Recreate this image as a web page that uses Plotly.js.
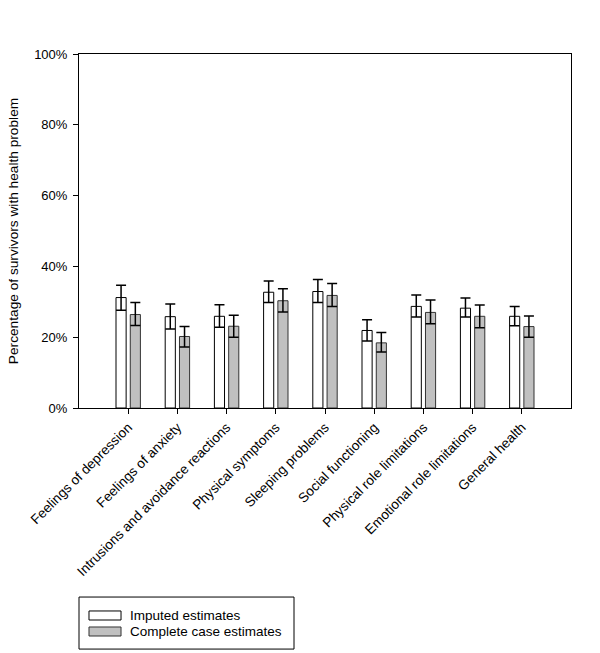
<!DOCTYPE html>
<html>
<head>
<meta charset="utf-8">
<script src="https://cdn.plot.ly/plotly-3.0.1.min.js"></script>
<style>html,body{margin:0;padding:0;background:#fff;}#chart{width:600px;height:653px;}</style>
</head>
<body>
<div id="chart"></div>
<script>
var categories = ["Feelings of depression", "Feelings of anxiety", "Intrusions and avoidance reactions", "Physical symptoms", "Sleeping problems", "Social functioning", "Physical role limitations", "Emotional role limitations", "General health"];

var imputed      = [31.2, 25.8, 25.9, 32.7, 32.9, 21.9, 28.7, 28.2, 25.9];
var imputedUpper = [34.7, 29.4, 29.2, 35.9, 36.3, 24.9, 31.9, 31.1, 28.7];
var imputedLower = [27.6, 22.3, 22.8, 29.8, 29.8, 18.9, 25.7, 25.7, 23.2];

var complete      = [26.4, 20.2, 23.1, 30.3, 31.8, 18.4, 27.0, 25.9, 23.0];
var completeUpper = [29.8, 23.0, 26.2, 33.7, 35.2, 21.3, 30.5, 29.1, 26.0];
var completeLower = [23.3, 17.2, 20.0, 27.1, 28.7, 15.8, 23.8, 22.7, 20.0];

var seriesNames = ["Imputed estimates", "Complete case estimates"];
var yTickVals = [0, 20, 40, 60, 80, 100];
var yTickText = ["0%", "20%", "40%", "60%", "80%", "100%"];

function diff(a, b) { return a.map(function (v, i) { return +(v - b[i]).toFixed(2); }); }

var fontFamily = "Liberation Sans, Arial, sans-serif";
var fills = ["#ffffff", "#c0c0c0"];
var edges = ["#000000", "#333333"];

var traceImputed = {
  type: "bar",
  name: seriesNames[0],
  x: categories,
  y: imputed,
  marker: { color: fills[0], line: { color: edges[0], width: 1 } },
  error_y: {
    type: "data", symmetric: false,
    array: diff(imputedUpper, imputed),
    arrayminus: diff(imputed, imputedLower),
    color: "#000000", thickness: 1.5, width: 5
  }
};
var traceComplete = {
  type: "bar",
  name: seriesNames[1],
  x: categories,
  y: complete,
  marker: { color: fills[1], line: { color: edges[1], width: 1 } },
  error_y: {
    type: "data", symmetric: false,
    array: diff(completeUpper, complete),
    arrayminus: diff(complete, completeLower),
    color: "#000000", thickness: 1.5, width: 5
  }
};

// Legend drawn as a framed box with swatches (paper coordinates)
var legendShapes = [
  { type: "rect", xref: "paper", yref: "paper", x0: 0, x1: 0.437, y0: -0.681, y1: -0.534,
    line: { color: "#000000", width: 1 }, fillcolor: "rgba(0,0,0,0)" },
  { type: "rect", xref: "paper", yref: "paper", x0: 0.0203, x1: 0.0854, y0: -0.5989, y1: -0.5734,
    line: { color: edges[0], width: 1 }, fillcolor: fills[0] },
  { type: "rect", xref: "paper", yref: "paper", x0: 0.0203, x1: 0.0854, y0: -0.6441, y1: -0.6186,
    line: { color: edges[1], width: 1 }, fillcolor: fills[1] }
];
var legendTexts = [
  { xref: "paper", yref: "paper", x: 0.0996, y: -0.5862, xanchor: "left", yanchor: "middle",
    text: seriesNames[0], showarrow: false, font: { family: fontFamily, size: 13.5, color: "#000000" } },
  { xref: "paper", yref: "paper", x: 0.0996, y: -0.6314, xanchor: "left", yanchor: "middle",
    text: seriesNames[1], showarrow: false, font: { family: fontFamily, size: 13.5, color: "#000000" } }
];

var layout = {
  width: 600, height: 653,
  margin: { l: 79, r: 29, t: 54, b: 245, pad: 0 },
  paper_bgcolor: "#ffffff",
  plot_bgcolor: "#ffffff",
  font: { family: fontFamily, size: 13, color: "#000000" },
  barmode: "group",
  bargap: 0.42,
  bargroupgap: 0.29,
  showlegend: false,
  xaxis: {
    type: "category",
    range: [-1, 9],
    automargin: false,
    showline: true, linecolor: "#000000", linewidth: 1, mirror: true,
    ticks: "outside", ticklen: 5, tickcolor: "#000000", tickwidth: 1,
    tickangle: -45,
    showgrid: false, zeroline: false,
    tickfont: { family: fontFamily, size: 13.6, color: "#000000" }
  },
  yaxis: {
    range: [0, 100],
    automargin: false,
    tickvals: yTickVals, ticktext: yTickText,
    showline: true, linecolor: "#000000", linewidth: 1, mirror: true,
    ticks: "outside", ticklen: 5, tickcolor: "#000000", tickwidth: 1,
    ticklabelstandoff: 3,
    showgrid: false, zeroline: false,
    tickfont: { family: fontFamily, size: 13, color: "#000000" },
    title: { text: "Percentage of survivors with health problem", standoff: 12,
             font: { family: fontFamily, size: 13.7, color: "#000000" } }
  },
  shapes: legendShapes,
  annotations: legendTexts
};

Plotly.newPlot("chart", [traceImputed, traceComplete], layout, { displayModeBar: false, staticPlot: true });
</script>
</body>
</html>
